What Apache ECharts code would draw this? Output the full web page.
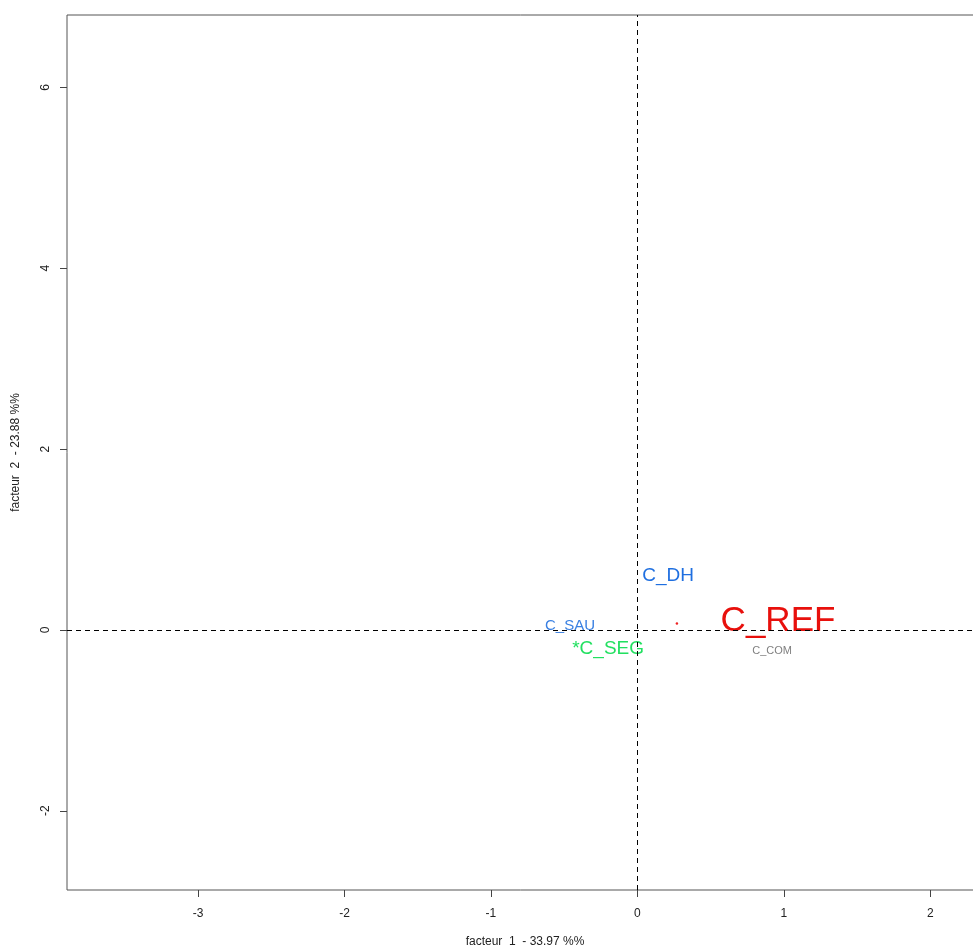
<!DOCTYPE html>
<html><head><meta charset="utf-8">
<script src="https://cdn.jsdelivr.net/npm/echarts@6/dist/echarts.min.js"></script>
<style>html,body{margin:0;padding:0;background:#fff}#c{width:973px;height:948px}</style>
</head><body><div id="c"></div>
<script>
const labels = ["C_DH", "C_REF", "C_SAU", "*C_SEG", "C_COM"];
const xVals = [0.21, 0.96, -0.46, -0.20, 0.92];
const yVals = [0.60, 0.10, 0.05, -0.21, -0.23];
const pointX = [0.27];
const pointY = [0.07];
const xTicks = [-3, -2, -1, 0, 1, 2];
const yTicks = [-2, 0, 2, 4, 6];
const xTitle = "facteur  1  - 33.97 %%";
const yTitle = "facteur  2  - 23.88 %%";

const styleMap = {
  "C_DH": {color: "#1f6fe0", size: 19},
  "C_REF": {color: "#e8100c", size: 35},
  "C_SAU": {color: "#3a80e2", size: 15},
  "*C_SEG": {color: "#22e060", size: 19},
  "C_COM": {color: "#808080", size: 11}
};

const textData = labels.map((n, i) => ({
  value: [xVals[i], yVals[i]],
  name: n,
  label: {show: true, position: 'inside', formatter: n,
    color: styleMap[n].color, fontSize: styleMap[n].size,
    fontFamily: 'Liberation Sans, Arial, sans-serif'}
}));

const chart = echarts.init(document.getElementById('c'), null, {renderer: 'canvas'});
const font = 'Liberation Sans, Arial, sans-serif';
chart.setOption({
  animation: false,
  backgroundColor: '#fff',
  grid: {left: 67, top: 15, right: -10, bottom: 58, show: true, borderColor: '#555', borderWidth: 1,
    containLabel: false, outerBoundsMode: 'none'},
  xAxis: {
    type: 'value', min: -3.895, max: 2.36,
    splitLine: {show: false},
    axisLine: {show: false, onZero: false},
    axisTick: {show: true, length: 7, lineStyle: {color: '#444'}, customValues: xTicks},
    axisLabel: {show: true, customValues: xTicks, margin: 18, color: '#222', fontSize: 12, fontFamily: font},
    name: xTitle, nameLocation: 'middle', nameGap: 46,
    nameTextStyle: {color: '#222', fontSize: 12, fontFamily: font}
  },
  yAxis: {
    type: 'value', min: -2.876, max: 6.80,
    splitLine: {show: false},
    axisLine: {show: false, onZero: false},
    axisTick: {show: true, length: 7, lineStyle: {color: '#444'}, customValues: yTicks},
    axisLabel: {show: true, customValues: yTicks, rotate: 90, margin: 15, color: '#222', fontSize: 12, fontFamily: font},
    name: yTitle, nameLocation: 'middle', nameGap: 45, nameRotate: 90,
    nameTextStyle: {color: '#222', fontSize: 12, fontFamily: font}
  },
  series: [
    {
      type: 'scatter', symbolSize: 0, data: textData, z: 3,
      itemStyle: {opacity: 1},
      markLine: {
        silent: true, symbol: 'none', label: {show: false},
        lineStyle: {color: '#000', type: [5, 4], width: 1},
        data: [{xAxis: 0}, {yAxis: 0}]
      }
    },
    {
      type: 'scatter', symbol: 'circle', symbolSize: 2.5,
      itemStyle: {color: '#ee2222', opacity: 1},
      data: pointX.map((x, i) => [x, pointY[i]])
    }
  ]
});
</script></body></html>
